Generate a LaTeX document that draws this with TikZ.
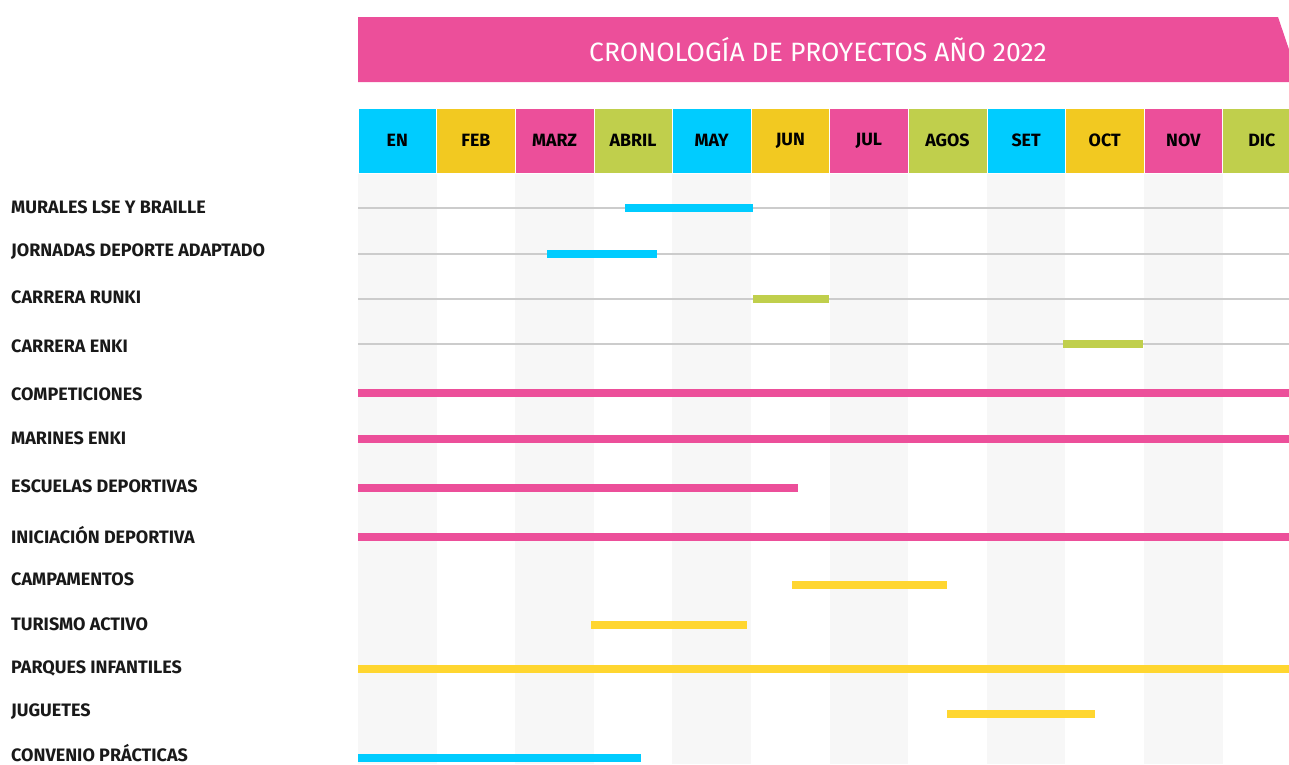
\documentclass[tikz,border=0pt]{standalone}
\usepackage{fontspec}
\setmainfont{Fira Sans}
\definecolor{mcyan}{HTML}{00CCFF}
\definecolor{myellow}{HTML}{F2C921}
\definecolor{mpink}{HTML}{EC4F9A}
\definecolor{mgreen}{HTML}{C0CF4C}
\definecolor{byellow}{HTML}{FFD630}
\definecolor{colshade}{HTML}{F7F7F7}
\definecolor{rowline}{HTML}{CCCCCC}

\begin{document}
\begin{tikzpicture} [x=1pt, y=-1pt,
    month/.style = {minimum width=78.6pt, minimum height=65pt, inner sep=0pt,
        draw=white, line width=0.6pt, font=\bfseries\fontsize{17.8}{20}\selectfont},
    task/.style = {anchor=west, inner sep=0pt, text=black!90,
        font=\bfseries\fontsize{18}{20}\selectfont},
    bar/.style = {line width=7.5pt},
    guide/.style = {rowline, line width=1.6pt}]
    \useasboundingbox (0,0) rectangle (1289,764);
    \clip (0,0) rectangle (1289,764);

    % header
    \fill [mpink] (358,17) -- (1278,17) -- (1300,82) -- (358,82) -- cycle;
    \node (title) [text=white, font=\fontsize{26.5}{30}\selectfont] at (818,50)
        {CRONOLOGÍA DE PROYECTOS AÑO 2022};

    % shaded columns
    \foreach \i in {0,2,...,10}
        \fill [colshade] (358+\i*78.6,173) rectangle ++(78.6,591);

    % months
    \foreach \m/\c [count=\i from 0] in {EN/mcyan, FEB/myellow, MARZ/mpink,
        ABRIL/mgreen, MAY/mcyan, JUN/myellow, JUL/mpink, AGOS/mgreen,
        SET/mcyan, OCT/myellow, NOV/mpink, DIC/mgreen}
        \node (m\i) [month, fill=\c] at (397.3+\i*78.6,140.5) {\m};

    % guide lines
    \foreach \y in {208,254,299,344}
        \draw [guide] (358,\y) -- (1300,\y);

    % tasks
    \foreach \t/\ty/\by/\a/\b/\c [count=\k] in {
        MURALES LSE Y BRAILLE/207/208/625/753/mcyan,
        JORNADAS DEPORTE ADAPTADO/252/254/547/657/mcyan,
        CARRERA RUNKI/297/299/753/829/mgreen,
        CARRERA ENKI/346/344/1063/1143/mgreen,
        COMPETICIONES/394/393/358/1300/mpink,
        MARINES ENKI/438/439/358/1300/mpink,
        ESCUELAS DEPORTIVAS/486/488/358/798/mpink,
        INICIACIÓN DEPORTIVA/535/537/358/1300/mpink,
        CAMPAMENTOS/579/585/792/947/byellow,
        TURISMO ACTIVO/624/625/591/747/byellow,
        PARQUES INFANTILES/668/669/358/1300/byellow,
        JUGUETES/712/714/947/1095/byellow,
        CONVENIO PRÁCTICAS/753/758/358/641/mcyan}
    {
        \node (t\k) [task] at (11,\ty) {\t};
        \coordinate (s\k) at (\a,\by);
        \coordinate (e\k) at (\b,\by);
        \draw [bar, \c] (s\k) -- (e\k);
    }
\end{tikzpicture}
\end{document}
